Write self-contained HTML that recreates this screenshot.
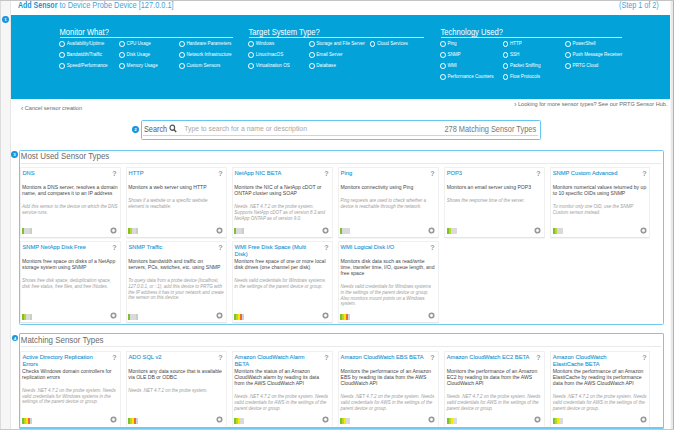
<!DOCTYPE html>
<html><head><meta charset="utf-8"><style>
*{box-sizing:border-box;margin:0;padding:0}
html,body{width:674px;height:430px;overflow:hidden;background:#fff;font-family:"Liberation Sans",sans-serif;position:relative}
.a{position:absolute}
#topline{left:0;top:0;width:674px;height:1.2px;background:#c4c4c4}
#gutter{left:0;top:1px;width:11px;height:429px;background:#f6f6f6;border-left:1px solid #dcdcdc;border-right:1px solid #e6e6e6}
#rstrip{left:670px;top:1px;width:4px;height:429px;background:linear-gradient(90deg,#f7f7f7 0,#f7f7f7 1px,#e9e9e9 1px,#e9e9e9 3px,#b2b2b2 3px)}
#bstrip{left:0;top:429px;width:674px;height:1px;background:#d4c4be}
.title{left:18px;top:0.3px;font-size:7.4px;white-space:nowrap;color:#3ea6de;transform:scaleY(1.2);transform-origin:0 0}
.title b{color:#2191d3;font-weight:bold;font-size:7.02px}
.step{left:619px;top:0.3px;font-size:7.2px;color:#3ea6de;white-space:nowrap;transform:scaleY(1.2);transform-origin:0 0}
#blue{left:11px;top:15px;width:659px;height:83.5px;background:#03a3da}
.badge{position:absolute;width:6.8px;height:6.8px;border-radius:50%;background:#1896dc;color:#fff;font-size:4.4px;font-weight:bold;line-height:8.4px;text-align:center;overflow:visible}
.bh{position:absolute;top:28.6px;height:9px;font-size:7.6px;color:#fff;border-bottom:0.7px solid rgba(255,255,255,0.8);white-space:nowrap;line-height:8px}
.bh span{display:inline-block;transform:scaleY(1.1);transform-origin:0 85%}
.rad{position:absolute;font-size:4.6px;color:#fff;white-space:nowrap;line-height:6px;height:6px}
.rad span.l{display:inline-block;transform:scaleY(1.15);transform-origin:0 60%}
.rc{display:inline-block;width:5.8px;height:5.8px;border:0.65px solid #fff;border-radius:50%;vertical-align:top;margin-right:1.6px}
.cancel{left:21px;top:103.8px;line-height:7px;font-size:5.6px;transform:scaleY(1.1);transform-origin:0 0;color:#6a6a6a;white-space:nowrap}
.hub{left:514.2px;top:99.7px;line-height:7px;font-size:5.62px;color:#6a6a6a;white-space:nowrap;transform:scaleY(1.1);transform-origin:0 0}
.chev{font-size:6.6px;margin-right:1.6px;vertical-align:top}
#search{left:140.6px;top:120px;width:400.4px;height:19.8px;border:1.2px solid #66c6ef;border-radius:1.5px}
#search .ul{position:absolute;left:1.5px;right:1.5px;top:14.1px;height:1px;background:#d4d4d4}
.s1{position:absolute;left:2.4px;top:2.5px;font-size:7.3px;color:#5a5a5a;white-space:nowrap;transform:scaleY(1.12);transform-origin:0 0}
.s2{position:absolute;left:42.6px;top:4.2px;font-size:6.87px;color:#a8a8a8;white-space:nowrap}
.s3{position:absolute;right:3.9px;top:2.9px;font-size:7.42px;color:#777;white-space:nowrap;transform:scaleY(1.1);transform-origin:0 0}
.sec{position:absolute;z-index:2;left:18.6px;width:645.4px;border:1.4px solid #72caf0;border-radius:1.5px}
.sh{position:absolute;left:1.2px;top:0.9px;font-size:7.95px;color:#6a6a6a;white-space:nowrap;transform:scaleY(1.12);transform-origin:0 0}
.sdiv{position:absolute;left:1.6px;width:640px;top:12.1px;height:1px;background:#e9e9e9}
.card{position:absolute;width:100.7px;background:#fff;border:1px solid #f0f0f0;border-bottom-color:#e4e4e4;box-shadow:0 0.5px 0.6px rgba(0,0,0,0.08);border-radius:1px}
.ct{position:absolute;left:1.15px;top:1.9px;font-size:5.75px;line-height:6.8px;color:#2496d4;white-space:nowrap;-webkit-text-stroke:0.1px #2496d4}
.q{position:absolute;right:3.3px;top:1.1px;font-size:7.2px;font-weight:bold;color:#999}
.cb{position:absolute;left:1.8px;top:15.9px}
.cd{font-size:5.1px;line-height:6.1px;color:#464646;white-space:nowrap}
.cn{margin-top:8.0px;font-style:italic;font-size:4.53px;line-height:5.75px;color:#9d9d9d;white-space:nowrap}
.bar{position:absolute;left:1.0px;bottom:2.9px;width:10px;height:6px;display:flex}
.bar i{display:block;width:2px;height:6px}
.plus{position:absolute;right:2.75px;bottom:3.3px}
</style></head><body>
<div class="a" id="topline"></div>
<div class="a" id="gutter"></div>
<div class="a" id="rstrip"></div>
<div class="a title"><b>Add Sensor</b> to Device Probe Device [127.0.0.1]</div>
<div class="a step">(Step 1 of 2)</div>
<div class="a" id="blue"></div>
<div class="badge" style="left:2.0px;top:16.2px">1</div>
<div class="bh" style="left:59.5px;width:173.5px"><span>Monitor What?</span></div><div class="rad" style="left:59.4px;top:41.0px"><span class="rc"></span><span class="l">Availability/Uptime</span></div><div class="rad" style="left:59.4px;top:51.8px"><span class="rc"></span><span class="l">Bandwidth/Traffic</span></div><div class="rad" style="left:59.4px;top:63.2px"><span class="rc"></span><span class="l">Speed/Performance</span></div><div class="rad" style="left:119.2px;top:41.0px"><span class="rc"></span><span class="l">CPU Usage</span></div><div class="rad" style="left:119.2px;top:51.8px"><span class="rc"></span><span class="l">Disk Usage</span></div><div class="rad" style="left:119.2px;top:63.2px"><span class="rc"></span><span class="l">Memory Usage</span></div><div class="rad" style="left:179.0px;top:41.0px"><span class="rc"></span><span class="l">Hardware Parameters</span></div><div class="rad" style="left:179.0px;top:51.8px"><span class="rc"></span><span class="l">Network Infrastructure</span></div><div class="rad" style="left:179.0px;top:63.2px"><span class="rc"></span><span class="l">Custom Sensors</span></div><div class="bh" style="left:248.5px;width:175.5px"><span>Target System Type?</span></div><div class="rad" style="left:248.3px;top:41.0px"><span class="rc"></span><span class="l">Windows</span></div><div class="rad" style="left:248.3px;top:51.8px"><span class="rc"></span><span class="l">Linux/macOS</span></div><div class="rad" style="left:248.3px;top:63.2px"><span class="rc"></span><span class="l">Virtualization OS</span></div><div class="rad" style="left:308.9px;top:41.0px"><span class="rc"></span><span class="l">Storage and File Server</span></div><div class="rad" style="left:308.9px;top:51.8px"><span class="rc"></span><span class="l">Email Server</span></div><div class="rad" style="left:308.9px;top:63.2px"><span class="rc"></span><span class="l">Database</span></div><div class="rad" style="left:369.5px;top:41.0px"><span class="rc"></span><span class="l">Cloud Services</span></div><div class="bh" style="left:440.5px;width:181.5px"><span>Technology Used?</span></div><div class="rad" style="left:440.0px;top:41.0px"><span class="rc"></span><span class="l">Ping</span></div><div class="rad" style="left:440.0px;top:51.8px"><span class="rc"></span><span class="l">SNMP</span></div><div class="rad" style="left:440.0px;top:63.2px"><span class="rc"></span><span class="l">WMI</span></div><div class="rad" style="left:440.0px;top:74.3px"><span class="rc"></span><span class="l">Performance Counters</span></div><div class="rad" style="left:502.5px;top:41.0px"><span class="rc"></span><span class="l">HTTP</span></div><div class="rad" style="left:502.5px;top:51.8px"><span class="rc"></span><span class="l">SSH</span></div><div class="rad" style="left:502.5px;top:63.2px"><span class="rc"></span><span class="l">Packet Sniffing</span></div><div class="rad" style="left:502.5px;top:74.3px"><span class="rc"></span><span class="l">Flow Protocols</span></div><div class="rad" style="left:565.0px;top:41.0px"><span class="rc"></span><span class="l">PowerShell</span></div><div class="rad" style="left:565.0px;top:51.8px"><span class="rc"></span><span class="l">Push Message Receiver</span></div><div class="rad" style="left:565.0px;top:63.2px"><span class="rc"></span><span class="l">PRTG Cloud</span></div>
<div class="a cancel"><span class="chev">&lsaquo;</span>Cancel sensor creation</div>
<div class="a hub"><span class="chev">&rsaquo;</span>Looking for more sensor types? See our PRTG Sensor Hub.</div>
<div class="badge" style="left:132.1px;top:126.1px">2</div>
<div class="a" id="search"><div class="ul"></div><div class="s1">Search <svg width="8" height="8" viewBox="0 0 8 8" style="vertical-align:-0.6px;margin-left:0.2px"><circle cx="3.3" cy="3.3" r="2.3" fill="none" stroke="#555" stroke-width="1.2"/><path d="M5 5L7.2 7.2" stroke="#555" stroke-width="1.4"/></svg></div><div class="s2">Type to search for a name or description</div><div class="s3">278 Matching Sensor Types</div></div>
<div class="sec" style="top:149.6px;height:175.3px"><div class="sh">Most Used Sensor Types</div><div class="sdiv"></div></div>
<div class="badge" style="left:11.0px;top:151.1px">3</div>
<div class="sec" style="top:333.3px;height:95.7px;border-bottom-width:2px"><div class="sh">Matching Sensor Types</div><div class="sdiv"></div></div>
<div class="badge" style="left:11.5px;top:334.5px">4</div>
<div class="card" style="left:20.30px;top:167.20px;height:70.50px;">
<div class="ct" style="left:1.15px">DNS</div><div class="q" style="right:3.30px">?</div>
<div class="cb" style="left:0.80px"><div class="cd">Monitors a DNS server, resolves a domain<br>name, and compares it to an IP address</div><div class="cn">Add this sensor to the device on which the DNS<br>service runs.</div></div>
<div class="bar" style="bottom:2.9px;left:0.70px"><i style="background:#7cc22c"></i><i style="background:#d9d9de"></i><i style="background:#d9d9de"></i><i style="background:#d9d9de"></i><i style="background:#c8cfc3"></i></div>
<svg class="plus" style="bottom:3.0px;right:2.95px" width="7" height="7" viewBox="0 0 7 7"><circle cx="3.5" cy="3.5" r="2.4" fill="#d9d9dc" stroke="#939393" stroke-width="1.3"/><path d="M3.5 2.3V4.7M2.3 3.5H4.7" stroke="#fff" stroke-width="0.9"/></svg>
</div><div class="card" style="left:126.20px;top:167.20px;height:70.50px;">
<div class="ct" style="left:1.30px">HTTP</div><div class="q" style="right:3.20px">?</div>
<div class="cb" style="left:1.04px"><div class="cd">Monitors a web server using HTTP</div><div class="cn">Shows if a website or a specific website<br>element is reachable.</div></div>
<div class="bar" style="bottom:2.9px;left:0.94px"><i style="background:#7cc22c"></i><i style="background:#bcd52e"></i><i style="background:#d9d9de"></i><i style="background:#d9d9de"></i><i style="background:#c8cfc3"></i></div>
<svg class="plus" style="bottom:3.0px;right:2.85px" width="7" height="7" viewBox="0 0 7 7"><circle cx="3.5" cy="3.5" r="2.4" fill="#d9d9dc" stroke="#939393" stroke-width="1.3"/><path d="M3.5 2.3V4.7M2.3 3.5H4.7" stroke="#fff" stroke-width="0.9"/></svg>
</div><div class="card" style="left:232.10px;top:167.20px;height:70.50px;">
<div class="ct" style="left:1.45px">NetApp NIC BETA</div><div class="q" style="right:3.10px">?</div>
<div class="cb" style="left:1.28px"><div class="cd">Monitors the NIC of a NetApp cDOT or<br>ONTAP cluster using SOAP</div><div class="cn">Needs .NET 4.7.2 on the probe system.<br>Supports NetApp cDOT as of version 8.3 and<br>NetApp ONTAP as of version 9.0.</div></div>
<div class="bar" style="bottom:2.9px;left:1.18px"><i style="background:#7cc22c"></i><i style="background:#d9d9de"></i><i style="background:#d9d9de"></i><i style="background:#d9d9de"></i><i style="background:#c8cfc3"></i></div>
<svg class="plus" style="bottom:3.0px;right:2.75px" width="7" height="7" viewBox="0 0 7 7"><circle cx="3.5" cy="3.5" r="2.4" fill="#d9d9dc" stroke="#939393" stroke-width="1.3"/><path d="M3.5 2.3V4.7M2.3 3.5H4.7" stroke="#fff" stroke-width="0.9"/></svg>
</div><div class="card" style="left:338.00px;top:167.20px;height:70.50px;">
<div class="ct" style="left:1.60px">Ping</div><div class="q" style="right:3.00px">?</div>
<div class="cb" style="left:1.52px"><div class="cd">Monitors connectivity using Ping</div><div class="cn">Ping requests are used to check whether a<br>device is reachable through the network.</div></div>
<div class="bar" style="bottom:2.9px;left:1.42px"><i style="background:#7cc22c"></i><i style="background:#d9d9de"></i><i style="background:#d9d9de"></i><i style="background:#d9d9de"></i><i style="background:#d9d9de"></i></div>
<svg class="plus" style="bottom:3.0px;right:2.65px" width="7" height="7" viewBox="0 0 7 7"><circle cx="3.5" cy="3.5" r="2.4" fill="#d9d9dc" stroke="#939393" stroke-width="1.3"/><path d="M3.5 2.3V4.7M2.3 3.5H4.7" stroke="#fff" stroke-width="0.9"/></svg>
</div><div class="card" style="left:443.90px;top:167.20px;height:70.50px;">
<div class="ct" style="left:1.75px">POP3</div><div class="q" style="right:2.90px">?</div>
<div class="cb" style="left:1.76px"><div class="cd">Monitors an email server using POP3</div><div class="cn">Shows the response time of the server.</div></div>
<div class="bar" style="bottom:2.9px;left:1.66px"><i style="background:#7cc22c"></i><i style="background:#bcd52e"></i><i style="background:#d9d9de"></i><i style="background:#d9d9de"></i><i style="background:#d9d9de"></i></div>
<svg class="plus" style="bottom:3.0px;right:2.55px" width="7" height="7" viewBox="0 0 7 7"><circle cx="3.5" cy="3.5" r="2.4" fill="#d9d9dc" stroke="#939393" stroke-width="1.3"/><path d="M3.5 2.3V4.7M2.3 3.5H4.7" stroke="#fff" stroke-width="0.9"/></svg>
</div><div class="card" style="left:549.80px;top:167.20px;height:70.50px;">
<div class="ct" style="left:1.90px">SNMP Custom Advanced</div><div class="q" style="right:2.80px">?</div>
<div class="cb" style="left:2.00px"><div class="cd">Monitors numerical values returned by up<br>to 10 specific OIDs using SNMP</div><div class="cn">To monitor only one OID, use the SNMP<br>Custom sensor instead.</div></div>
<div class="bar" style="bottom:2.9px;left:1.90px"><i style="background:#7cc22c"></i><i style="background:#bcd52e"></i><i style="background:#d9d9de"></i><i style="background:#d9d9de"></i><i style="background:#d9d9de"></i></div>
<svg class="plus" style="bottom:3.0px;right:2.45px" width="7" height="7" viewBox="0 0 7 7"><circle cx="3.5" cy="3.5" r="2.4" fill="#d9d9dc" stroke="#939393" stroke-width="1.3"/><path d="M3.5 2.3V4.7M2.3 3.5H4.7" stroke="#fff" stroke-width="0.9"/></svg>
</div><div class="card" style="left:20.30px;top:241.00px;height:82.30px;">
<div class="ct" style="left:1.15px">SNMP NetApp Disk Free</div><div class="q" style="right:3.30px">?</div>
<div class="cb" style="left:0.80px"><div class="cd">Monitors free space on disks of a NetApp<br>storage system using SNMP</div><div class="cn">Shows free disk space, deduplication space,<br>disk free status, free files, and free INodes.</div></div>
<div class="bar" style="bottom:2.4px;left:0.70px"><i style="background:#7cc22c"></i><i style="background:#bcd52e"></i><i style="background:#d9d9de"></i><i style="background:#d9d9de"></i><i style="background:#c8cfc3"></i></div>
<svg class="plus" style="bottom:3.3px;right:2.95px" width="7" height="7" viewBox="0 0 7 7"><circle cx="3.5" cy="3.5" r="2.4" fill="#d9d9dc" stroke="#939393" stroke-width="1.3"/><path d="M3.5 2.3V4.7M2.3 3.5H4.7" stroke="#fff" stroke-width="0.9"/></svg>
</div><div class="card" style="left:126.20px;top:241.00px;height:82.30px;">
<div class="ct" style="left:1.30px">SNMP Traffic</div><div class="q" style="right:3.20px">?</div>
<div class="cb" style="left:1.04px"><div class="cd">Monitors bandwidth and traffic on<br>servers, PCs, switches, etc. using SNMP</div><div class="cn">To query data from a probe device (localhost,<br>127.0.0.1, or ::1), add this device to PRTG with<br>the IP address it has in your network and create<br>the sensor on this device.</div></div>
<div class="bar" style="bottom:2.4px;left:0.94px"><i style="background:#7cc22c"></i><i style="background:#d9d9de"></i><i style="background:#d9d9de"></i><i style="background:#d9d9de"></i><i style="background:#c8cfc3"></i></div>
<svg class="plus" style="bottom:3.3px;right:2.85px" width="7" height="7" viewBox="0 0 7 7"><circle cx="3.5" cy="3.5" r="2.4" fill="#d9d9dc" stroke="#939393" stroke-width="1.3"/><path d="M3.5 2.3V4.7M2.3 3.5H4.7" stroke="#fff" stroke-width="0.9"/></svg>
</div><div class="card" style="left:232.10px;top:241.00px;height:82.30px;">
<div class="ct" style="left:1.45px">WMI Free Disk Space (Multi<br>Disk)</div><div class="q" style="right:3.10px">?</div>
<div class="cb" style="left:1.28px"><div class="cd">Monitors free space of one or more local<br>disk drives (one channel per disk)</div><div class="cn">Needs valid credentials for Windows systems<br>in the settings of the parent device or group.</div></div>
<div class="bar" style="bottom:2.4px;left:1.18px"><i style="background:#7cc22c"></i><i style="background:#bcd52e"></i><i style="background:#f7ea00"></i><i style="background:#f36a2a"></i><i style="background:#c8d3dc"></i></div>
<svg class="plus" style="bottom:3.3px;right:2.75px" width="7" height="7" viewBox="0 0 7 7"><circle cx="3.5" cy="3.5" r="2.4" fill="#d9d9dc" stroke="#939393" stroke-width="1.3"/><path d="M3.5 2.3V4.7M2.3 3.5H4.7" stroke="#fff" stroke-width="0.9"/></svg>
</div><div class="card" style="left:338.00px;top:241.00px;height:82.30px;">
<div class="ct" style="left:1.60px">WMI Logical Disk I/O</div><div class="q" style="right:3.00px">?</div>
<div class="cb" style="left:1.52px"><div class="cd">Monitors disk data such as read/write<br>time, transfer time, I/O, queue length, and<br>free space</div><div class="cn">Needs valid credentials for Windows systems<br>in the settings of the parent device or group.<br>Also monitors mount points on a Windows<br>system.</div></div>
<div class="bar" style="bottom:2.4px;left:1.42px"><i style="background:#7cc22c"></i><i style="background:#bcd52e"></i><i style="background:#f7ea00"></i><i style="background:#f36a2a"></i><i style="background:#c8d3dc"></i></div>
<svg class="plus" style="bottom:3.3px;right:2.65px" width="7" height="7" viewBox="0 0 7 7"><circle cx="3.5" cy="3.5" r="2.4" fill="#d9d9dc" stroke="#939393" stroke-width="1.3"/><path d="M3.5 2.3V4.7M2.3 3.5H4.7" stroke="#fff" stroke-width="0.9"/></svg>
</div><div class="card" style="left:20.30px;top:350.90px;height:76.60px;border-bottom-color:#fff;box-shadow:none">
<div class="ct" style="left:1.15px">Active Directory Replication<br>Errors</div><div class="q" style="right:3.30px">?</div>
<div class="cb" style="left:0.80px"><div class="cd">Checks Windows domain controllers for<br>replication errors</div><div class="cn">Needs .NET 4.7.2 on the probe system. Needs<br>valid credentials for Windows systems in the<br>settings of the parent device or group.</div></div>
<div class="bar" style="bottom:2.7px;left:0.70px"><i style="background:#7cc22c"></i><i style="background:#bcd52e"></i><i style="background:#f7ea00"></i><i style="background:#f36a2a"></i><i style="background:#c8d3dc"></i></div>
<svg class="plus" style="bottom:3.9px;right:2.95px" width="7" height="7" viewBox="0 0 7 7"><circle cx="3.5" cy="3.5" r="2.4" fill="#d9d9dc" stroke="#939393" stroke-width="1.3"/><path d="M3.5 2.3V4.7M2.3 3.5H4.7" stroke="#fff" stroke-width="0.9"/></svg>
</div><div class="card" style="left:126.20px;top:350.90px;height:76.60px;border-bottom-color:#fff;box-shadow:none">
<div class="ct" style="left:1.30px">ADO SQL v2</div><div class="q" style="right:3.20px">?</div>
<div class="cb" style="left:1.04px"><div class="cd">Monitors any data source that is available<br>via OLE DB or ODBC</div><div class="cn">Needs .NET 4.7.2 on the probe system.</div></div>
<div class="bar" style="bottom:2.7px;left:0.94px"><i style="background:#7cc22c"></i><i style="background:#bcd52e"></i><i style="background:#f7ea00"></i><i style="background:#f36a2a"></i><i style="background:#c8d3dc"></i></div>
<svg class="plus" style="bottom:3.9px;right:2.85px" width="7" height="7" viewBox="0 0 7 7"><circle cx="3.5" cy="3.5" r="2.4" fill="#d9d9dc" stroke="#939393" stroke-width="1.3"/><path d="M3.5 2.3V4.7M2.3 3.5H4.7" stroke="#fff" stroke-width="0.9"/></svg>
</div><div class="card" style="left:232.10px;top:350.90px;height:76.60px;border-bottom-color:#fff;box-shadow:none">
<div class="ct" style="left:1.45px">Amazon CloudWatch Alarm<br>BETA</div><div class="q" style="right:3.10px">?</div>
<div class="cb" style="left:1.28px"><div class="cd">Monitors the status of an Amazon<br>CloudWatch alarm by reading its data<br>from the AWS CloudWatch API</div><div class="cn">Needs .NET 4.7.2 on the probe system. Needs<br>valid credentials for AWS in the settings of the<br>parent device or group.</div></div>
<div class="bar" style="bottom:2.7px;left:1.18px"><i style="background:#7cc22c"></i><i style="background:#bcd52e"></i><i style="background:#f7ea00"></i><i style="background:#d9d9de"></i><i style="background:#d9d9de"></i></div>
<svg class="plus" style="bottom:3.9px;right:2.75px" width="7" height="7" viewBox="0 0 7 7"><circle cx="3.5" cy="3.5" r="2.4" fill="#d9d9dc" stroke="#939393" stroke-width="1.3"/><path d="M3.5 2.3V4.7M2.3 3.5H4.7" stroke="#fff" stroke-width="0.9"/></svg>
</div><div class="card" style="left:338.00px;top:350.90px;height:76.60px;border-bottom-color:#fff;box-shadow:none">
<div class="ct" style="left:1.60px">Amazon CloudWatch EBS BETA</div><div class="q" style="right:3.00px">?</div>
<div class="cb" style="left:1.52px"><div class="cd">Monitors the performance of an Amazon<br>EBS by reading its data from the AWS<br>CloudWatch API</div><div class="cn">Needs .NET 4.7.2 on the probe system. Needs<br>valid credentials for AWS in the settings of the<br>parent device or group.</div></div>
<div class="bar" style="bottom:2.7px;left:1.42px"><i style="background:#7cc22c"></i><i style="background:#bcd52e"></i><i style="background:#f7ea00"></i><i style="background:#d9d9de"></i><i style="background:#d9d9de"></i></div>
<svg class="plus" style="bottom:3.9px;right:2.65px" width="7" height="7" viewBox="0 0 7 7"><circle cx="3.5" cy="3.5" r="2.4" fill="#d9d9dc" stroke="#939393" stroke-width="1.3"/><path d="M3.5 2.3V4.7M2.3 3.5H4.7" stroke="#fff" stroke-width="0.9"/></svg>
</div><div class="card" style="left:443.90px;top:350.90px;height:76.60px;border-bottom-color:#fff;box-shadow:none">
<div class="ct" style="left:1.75px">Amazon CloudWatch EC2 BETA</div><div class="q" style="right:2.90px">?</div>
<div class="cb" style="left:1.76px"><div class="cd">Monitors the performance of an Amazon<br>EC2 by reading its data from the AWS<br>CloudWatch API</div><div class="cn">Needs .NET 4.7.2 on the probe system. Needs<br>valid credentials for AWS in the settings of the<br>parent device or group.</div></div>
<div class="bar" style="bottom:2.7px;left:1.66px"><i style="background:#7cc22c"></i><i style="background:#bcd52e"></i><i style="background:#f7ea00"></i><i style="background:#d9d9de"></i><i style="background:#d9d9de"></i></div>
<svg class="plus" style="bottom:3.9px;right:2.55px" width="7" height="7" viewBox="0 0 7 7"><circle cx="3.5" cy="3.5" r="2.4" fill="#d9d9dc" stroke="#939393" stroke-width="1.3"/><path d="M3.5 2.3V4.7M2.3 3.5H4.7" stroke="#fff" stroke-width="0.9"/></svg>
</div><div class="card" style="left:549.80px;top:350.90px;height:76.60px;border-bottom-color:#fff;box-shadow:none">
<div class="ct" style="left:1.90px">Amazon CloudWatch<br>ElastiCache BETA</div><div class="q" style="right:2.80px">?</div>
<div class="cb" style="left:2.00px"><div class="cd">Monitors the performance of an Amazon<br>ElastiCache by reading its performance<br>data from the AWS CloudWatch API</div><div class="cn">Needs .NET 4.7.2 on the probe system. Needs<br>valid credentials for AWS in the settings of the<br>parent device or group.</div></div>
<div class="bar" style="bottom:2.7px;left:1.90px"><i style="background:#7cc22c"></i><i style="background:#bcd52e"></i><i style="background:#f7ea00"></i><i style="background:#d9d9de"></i><i style="background:#d9d9de"></i></div>
<svg class="plus" style="bottom:3.9px;right:2.45px" width="7" height="7" viewBox="0 0 7 7"><circle cx="3.5" cy="3.5" r="2.4" fill="#d9d9dc" stroke="#939393" stroke-width="1.3"/><path d="M3.5 2.3V4.7M2.3 3.5H4.7" stroke="#fff" stroke-width="0.9"/></svg>
</div>
<div class="a" id="bstrip"></div>
</body></html>
